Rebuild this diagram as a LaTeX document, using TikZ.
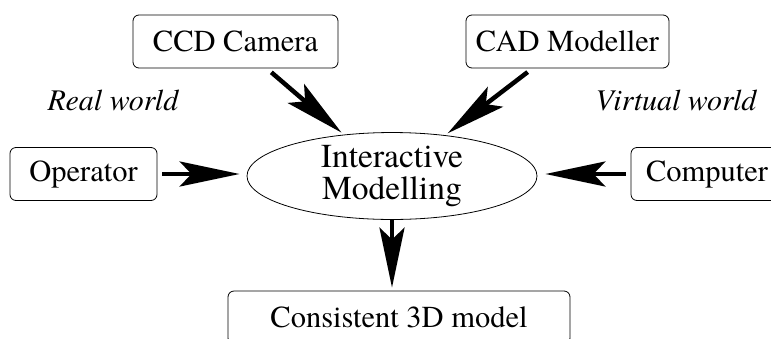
\documentclass[tikz,border=0pt]{standalone}
\usepackage{fontspec}
\setmainfont{TeX Gyre Termes}
\usetikzlibrary{arrows.meta,shapes.geometric}
\begin{document}
\begin{tikzpicture}[
      x=1pt, y=-1pt,
      boite/.style={
        draw,
        rounded corners=6pt,
        line width=0.8pt,
        minimum height=53pt,
        font=\fontsize{30.5}{34}\selectfont
      },
      monde/.style={
        font=\fontsize{30}{34}\selectfont\itshape
      },
      fleche/.style={
        line width=4.5pt,
        -{Stealth[length=60pt,width=25pt,inset=12pt]}
      }
    ]
    \clip (0,0) rectangle (771,338);
    \node[draw, ellipse, line width=0.8pt, minimum width=290pt, minimum height=84pt,
      inner sep=0pt, align=center, font=\fontsize{33.5}{32}\selectfont] (modele) at (392,176)
      {Interactive\\Modelling} ;
    \node[boite, minimum width=205pt] (camera) at (235.5,41.5) {CCD Camera} ;
    \node[boite, minimum width=203pt] (cao) at (567.5,41.5) {CAD Modeller} ;
    \node[boite, minimum width=147pt] (operateur) at (83.5,174) {Operator} ;
    \node[boite, minimum width=152pt] (ordinateur) at (707,174) {Computer} ;
    \node[boite, minimum width=342pt] (modele3d) at (399,317.5) {Consistent 3D model} ;
    \node[monde] (reel) at (113,101) {Real world} ;
    \node[monde] (virtuel) at (676,101) {Virtual world} ;
    \draw[fleche, shorten <=6pt, shorten >=3pt] (camera) -- (modele);
    \draw[fleche, shorten <=6pt, shorten >=3pt] (cao) -- (modele);
    \draw[fleche, shorten <=5pt, shorten >=7pt] (operateur.east) -- (operateur.east -| modele.west);
    \draw[fleche, shorten <=5pt, shorten >=8pt] (ordinateur.west) -- (ordinateur.west -| modele.east);
    \draw[fleche, shorten >=3pt] (modele.south) -- (modele.south |- modele3d.north);
  \end{tikzpicture}
\end{document}
